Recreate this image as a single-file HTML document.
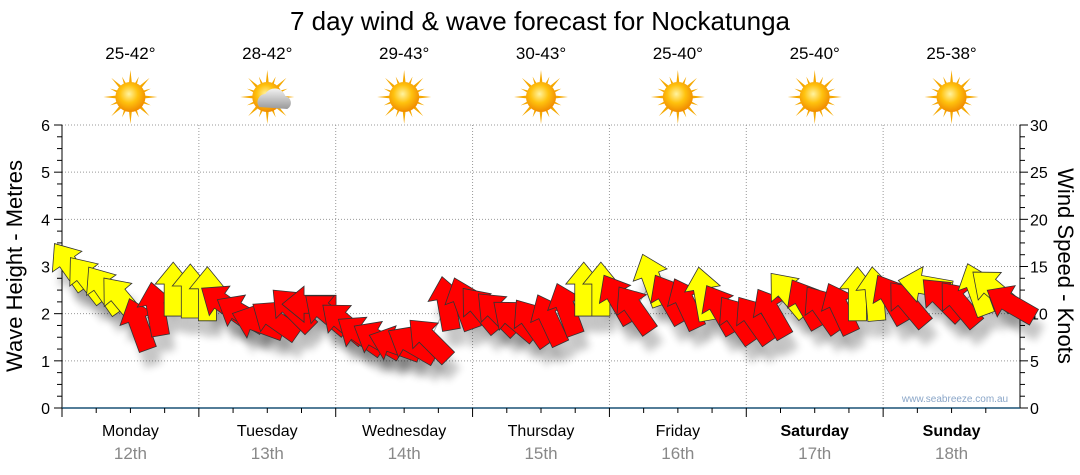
<!DOCTYPE html>
<html><head><meta charset="utf-8">
<style>
body{margin:0;background:#fff;}
svg{display:block;font-family:"Liberation Sans",sans-serif;}
</style></head>
<body>
<svg id="c" width="1080" height="475" viewBox="0 0 1080 475">
<defs>
<filter id="sh" x="-50%" y="-50%" width="200%" height="200%"><feGaussianBlur stdDeviation="4"/></filter>
<radialGradient id="sun" cx="45%" cy="40%" r="60%"><stop offset="0" stop-color="#fff3a0"/><stop offset="0.5" stop-color="#ffc20e"/><stop offset="1" stop-color="#f08a00"/></radialGradient>
<linearGradient id="cloud" x1="0" y1="0" x2="0" y2="1"><stop offset="0" stop-color="#f2f2f2"/><stop offset="1" stop-color="#999"/></linearGradient>
</defs>
<text x="540" y="30" font-size="26" text-anchor="middle">7 day wind &amp; wave forecast for Nockatunga</text>
<g id="grid"></g>
<g id="axes"></g>
<g id="wx"></g>
<g id="shadows"></g>
<g id="arrows"></g>
<text x="955" y="402" font-size="10" fill="#8aa6c8" text-anchor="middle">www.seabreeze.com.au</text>
<text transform="translate(22,266) rotate(-90)" font-size="22" text-anchor="middle">Wave Height - Metres</text>
<text transform="translate(1058,266) rotate(90)" font-size="22" text-anchor="middle">Wind Speed - Knots</text>
</svg>
<script>
const days=["Monday","Tuesday","Wednesday","Thursday","Friday","Saturday","Sunday"];
const dates=["12th","13th","14th","15th","16th","17th","18th"];
const temps=["25-42°","28-42°","29-43°","30-43°","25-40°","25-40°","25-38°"];
const icons=["sun","cloud","sun","sun","sun","sun","sun"];
const leftTicks=[0,1,2,3,4,5,6];
const rightTicks=[0,5,10,15,20,25,30];
const windSpeed=[15,13.6,12.5,11.5,8.8,10.4,12.5,12.3, 12,11,10,9,9.3,10.4,11,10, 9,7.7,7.2,6.7,6.7,7.2,11,11, 10.4,10,9.3,9,9.3,10.4,12.5,12.5, 11.5,10.4,13.5,11.5,11,12,10.4,9.3, 9.3,10,12,11,10.4,10.5,12,12, 11.5,11,13,11.5,11,12.5,12.5,11];
const windDir=[-35,-38,-35,-40,-20,-10,0,0, 0,-55,-60,-70,-55,-45,-90,-50, -50,-55,-60,-70,-60,-45,-10,-20, -40,-45,-50,-35,-25,-20,0,0, -30,-35,-20,-30,-25,-10,-30,-35, -35,-30,-40,-30,-35,-25,0,-5, -30,-40,-80,-45,-40,-20,-50,-60];
const windColor=["y","y","y","y","r","r","y","y", "y","r","r","r","r","r","r","r", "r","r","r","r","r","r","r","r", "r","r","r","r","r","r","y","y", "r","r","y","r","r","y","r","r", "r","r","y","r","r","r","y","y", "r","r","y","r","r","y","y","r"];
const NS="http://www.w3.org/2000/svg";
const X0=62,X1=1020,Y0=408,Y1=125;
const dayW=(X1-X0)/7;
const yM=v=>Y0-(v/6)*(Y0-Y1);
const yK=v=>Y0-(v/30)*(Y0-Y1);
const xT=i=>X0+(i+0.5)*(X1-X0)/windSpeed.length;
function mk(tag,attrs,parent){const e=document.createElementNS(NS,tag);for(const k in attrs)e.setAttribute(k,attrs[k]);parent.appendChild(e);return e;}
const grid=document.getElementById('grid'),axes=document.getElementById('axes'),wx=document.getElementById('wx');
leftTicks.forEach(v=>{if(v>0){const l=mk('line',{x1:X0,x2:X1,y1:yM(v),y2:yM(v),stroke:'#999','stroke-dasharray':'1,2'},grid);

}
const t=mk('text',{x:50,y:yM(v)+6,'font-size':16,'text-anchor':'end'},axes);t.textContent=v;

});
rightTicks.forEach(v=>{const t=mk('text',{x:1030,y:yK(v)+6,'font-size':16},axes);t.textContent=v;

});
for(let i=0;i<=24;i++){const v=i*0.25;const len=i%4==0?8:5;
mk('line',{x1:X0,x2:X0-len,y1:yM(v),y2:yM(v),stroke:'#000'},axes);
mk('line',{x1:X1,x2:X1+len,y1:yM(v),y2:yM(v),stroke:'#000'},axes);}
mk('line',{x1:X0,x2:X0,y1:Y1,y2:Y0+8,stroke:'#000'},axes);
mk('line',{x1:X1,x2:X1,y1:Y1,y2:Y0,stroke:'#000'},axes);
mk('line',{x1:X0,x2:X1,y1:Y0,y2:Y0,stroke:'#1a5276','stroke-width':1.5},axes);
for(let d=0;d<7;d++){
 const x=X0+d*dayW;
 if(d>0){const g=mk('line',{x1:x,x2:x,y1:Y1,y2:Y0,stroke:'#999','stroke-dasharray':'1,2'},grid);
 
 }
 mk('line',{x1:x,x2:x,y1:Y0,y2:Y0+9,stroke:'#000'},axes);
 for(let k=1;k<4;k++)mk('line',{x1:x+k*dayW/4,x2:x+k*dayW/4,y1:Y0,y2:Y0+5,stroke:'#000'},axes);
 const cx=x+dayW/2;
 const dl=mk('text',{x:cx,y:436,'font-size':16,'text-anchor':'middle','font-weight':d>=5?'bold':'normal'},axes);dl.textContent=days[d];
 
 
 const dt=mk('text',{x:cx,y:459,'font-size':17,'text-anchor':'middle',fill:'#888'},axes);dt.textContent=dates[d];
 
 
 const tt=mk('text',{x:cx,y:59,'font-size':17,'text-anchor':'middle'},wx);tt.textContent=temps[d];
 
 
 const ic=mk('g',{transform:`translate(${cx},97)`},wx);
 
 
 for(let r=0;r<16;r++){const a=r*22.5;const L=r%2?22:27;
  mk('polygon',{points:`-3,0 3,0 0,-${L}`,fill:'#f5a800',transform:`rotate(${a})`},ic);}
 mk('circle',{r:15,fill:'url(#sun)'},ic);
 if(icons[d]=="cloud"){mk('path',{d:'M-8,10 a8,8 0 0 1 6,-13 a11,11 0 0 1 20,2 a7,7 0 0 1 2,13 z',fill:'url(#cloud)'},ic);}
}
let pts=windSpeed.map((v,i)=>xT(i)+','+yK(v)).join(' ');
mk('polyline',{points:pts,fill:'none',stroke:'#aaa','stroke-width':1},document.getElementById('shadows'));
const shp='M0,-28 L18,-6 L9,-6 L9,26 L-9,26 L-9,-6 L-18,-6 Z';
const sg=document.getElementById('shadows'),ag=document.getElementById('arrows');
windSpeed.forEach((v,i)=>{
 const x=xT(i),y=yK(v),a=windDir[i];
 mk('path',{d:shp,fill:'#000',opacity:0.22,filter:'url(#sh)',transform:`translate(${x+6},${y+16}) rotate(${a})`},sg);
 const p=mk('path',{d:shp,fill:windColor[i]=="y"?'#ffff00':'#ff0000',stroke:'#333','stroke-width':0.8,transform:`translate(${x},${y}) rotate(${a})`},ag);
 
 
});
</script>
</body></html>
